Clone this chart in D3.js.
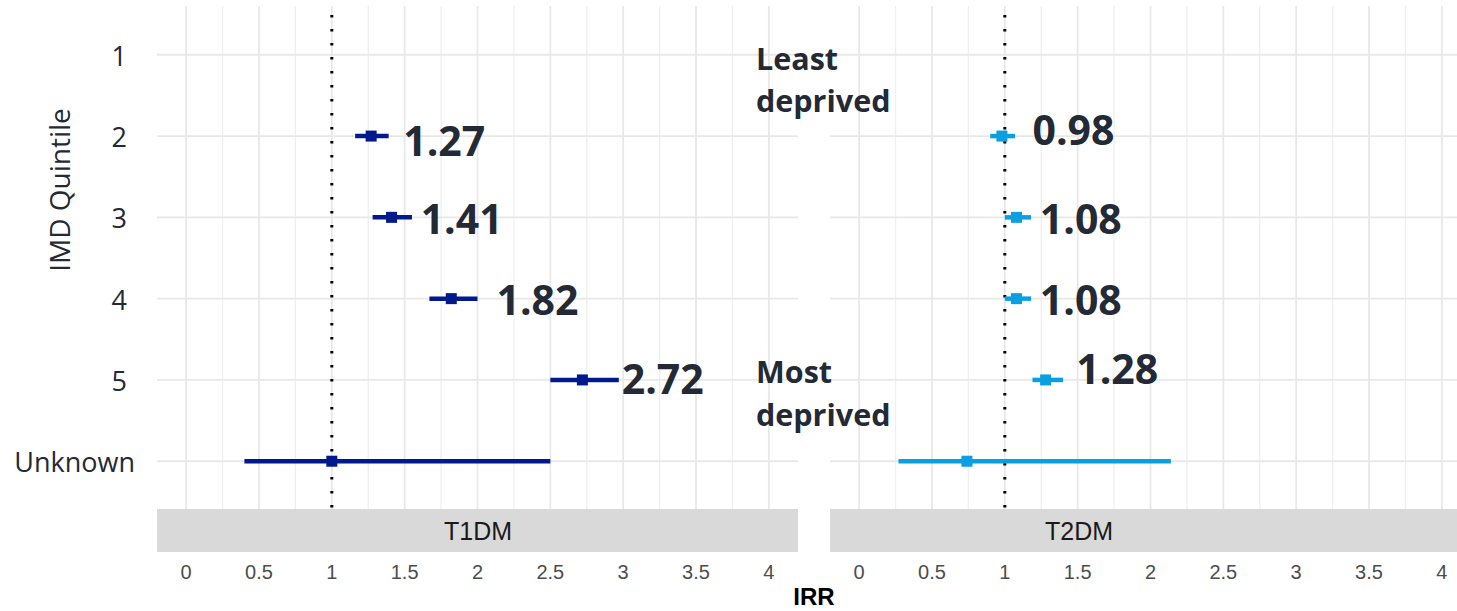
<!DOCTYPE html>
<html>
<head>
<meta charset="utf-8">
<script src="https://cdn.jsdelivr.net/npm/d3@7"></script>
<style>
  html, body { margin: 0; padding: 0; background: #fff; }
  svg { display: block; }
</style>
</head>
<body>
<svg id="chart" width="1457" height="611"></svg>
<script>
// ---------------- data ----------------
const rows = ["1", "2", "3", "4", "5", "Unknown"];
const panels = ["T1DM", "T2DM"];
const xTicks = [0, 0.5, 1, 1.5, 2, 2.5, 3, 3.5, 4];

// T1DM estimates (IRR, lower CI, upper CI); quintile 1 is the reference (no estimate)
const t1Rows  = ["2", "3", "4", "5", "Unknown"];
const t1Irr   = [1.27, 1.41, 1.82, 2.72, 1.00];
const t1Lower = [1.16, 1.28, 1.67, 2.50, 0.40];
const t1Upper = [1.39, 1.55, 2.00, 2.97, 2.50];

// T2DM estimates
const t2Rows  = ["2", "3", "4", "5", "Unknown"];
const t2Irr   = [0.98, 1.08, 1.08, 1.28, 0.74];
const t2Lower = [0.90, 1.00, 1.00, 1.19, 0.27];
const t2Upper = [1.07, 1.18, 1.18, 1.40, 2.14];

// value annotations: text, row, IRR-scale anchor where the label starts
const t1LabelText = ["1.27", "1.41", "1.82", "2.72"];
const t1LabelRow  = ["2", "3", "4", "5"];
const t1LabelAt   = [1.49, 1.61, 2.13, 2.99];
const t2LabelText = ["0.98", "1.08", "1.08", "1.28"];
const t2LabelRow  = ["2", "3", "4", "5"];
const t2LabelAt   = [1.19, 1.24, 1.24, 1.49];

// ---------------- layout ----------------
const svg = d3.select("#chart");
const panelTop = 6, panelBottom = 510, stripBottom = 552;
const panelW = 641;
const panelLeft = { T1DM: 157, T2DM: 830 };
const colors = { T1DM: "#00198c", T2DM: "#0a9fe0" };
const labelDy = { T1DM: [20, 17, 16, 14], T2DM: [9, 17, 16, 4] };
const textDark = "#232a35";

const y = d3.scalePoint().domain(rows).range([panelTop, panelBottom]).padding(0.6);

const series = {
  T1DM: t1Rows.map((r, i) => ({ row: r, irr: t1Irr[i], lo: t1Lower[i], hi: t1Upper[i] })),
  T2DM: t2Rows.map((r, i) => ({ row: r, irr: t2Irr[i], lo: t2Lower[i], hi: t2Upper[i] }))
};
const labels = {
  T1DM: t1LabelText.map((t, i) => ({ text: t, row: t1LabelRow[i], at: t1LabelAt[i], dy: labelDy.T1DM[i] })),
  T2DM: t2LabelText.map((t, i) => ({ text: t, row: t2LabelRow[i], at: t2LabelAt[i], dy: labelDy.T2DM[i] }))
};

panels.forEach(p => {
  const x0 = panelLeft[p];
  const x = d3.scaleLinear().domain([-0.2, 4.2]).range([x0, x0 + panelW]);
  const g = svg.append("g");

  // minor vertical grid
  g.selectAll("line.minor").data(d3.range(0.25, 4.2, 0.5)).enter().append("line")
    .attr("x1", d => x(d)).attr("x2", d => x(d))
    .attr("y1", panelTop).attr("y2", panelBottom)
    .attr("stroke", "#efefef").attr("stroke-width", 1.3);
  // major vertical grid
  g.selectAll("line.major").data(xTicks).enter().append("line")
    .attr("x1", d => x(d)).attr("x2", d => x(d))
    .attr("y1", panelTop).attr("y2", panelBottom)
    .attr("stroke", "#e8e8e8").attr("stroke-width", 1.8);
  // horizontal grid
  g.selectAll("line.hgrid").data(rows).enter().append("line")
    .attr("x1", x0).attr("x2", x0 + panelW)
    .attr("y1", d => y(d)).attr("y2", d => y(d))
    .attr("stroke", "#e8e8e8").attr("stroke-width", 1.8);

  // reference line at IRR = 1
  g.append("line")
    .attr("x1", x(1)).attr("x2", x(1))
    .attr("y1", panelTop + 9).attr("y2", panelBottom)
    .attr("stroke", "#000").attr("stroke-width", 3)
    .attr("stroke-dasharray", "2.6 11.4");

  // error bars
  g.selectAll("line.ci").data(series[p]).enter().append("line")
    .attr("x1", d => x(d.lo)).attr("x2", d => x(d.hi))
    .attr("y1", d => y(d.row)).attr("y2", d => y(d.row))
    .attr("stroke", colors[p]).attr("stroke-width", 4.5);
  // points
  g.selectAll("rect.pt").data(series[p]).enter().append("rect")
    .attr("x", d => x(d.irr) - 5.5).attr("y", d => y(d.row) - 5.5)
    .attr("width", 11).attr("height", 11)
    .attr("fill", colors[p]);

  // strip
  g.append("rect")
    .attr("x", x0).attr("y", panelBottom - 1)
    .attr("width", panelW).attr("height", stripBottom - panelBottom + 1)
    .attr("fill", "#d9d9d9");

  // x tick labels
  g.selectAll("text.xt").data(xTicks).enter().append("text")
    .attr("x", d => x(d)).attr("y", 579)
    .attr("text-anchor", "middle")
    .attr("font-family", "Liberation Sans, Arial, sans-serif")
    .attr("font-size", 20).attr("fill", "#4d4d4d")
    .text(d => d3.format("~g")(d));

  // value labels
  g.selectAll("text.val").data(labels[p]).enter().append("text")
    .attr("x", d => x(d.at)).attr("y", d => y(d.row) + d.dy)
    .attr("font-family", "Open Sans, sans-serif").attr("font-weight", 700)
    .attr("font-size", 41).attr("fill", textDark)
    .text(d => d.text);
});

// strip labels
svg.append("text").attr("x", 478).attr("y", 540).attr("text-anchor", "middle")
  .attr("font-family", "Liberation Sans, Arial, sans-serif").attr("font-size", 25)
  .attr("fill", "#1a1a1a").text(panels[0]);
svg.append("text").attr("x", 1079).attr("y", 540).attr("text-anchor", "middle")
  .attr("font-family", "Liberation Sans, Arial, sans-serif").attr("font-size", 25)
  .attr("fill", "#1a1a1a").text(panels[1]);

// y tick labels
svg.selectAll("text.yt").data(rows).enter().append("text")
  .attr("x", d => d === "Unknown" ? 135 : 127)
  .attr("y", d => y(d) + 11)
  .attr("text-anchor", "end")
  .attr("font-family", "Open Sans, sans-serif").attr("font-size", 27)
  .attr("fill", textDark)
  .text(d => d);

// y axis title
svg.append("text")
  .attr("transform", "translate(70,190) rotate(-90)")
  .attr("text-anchor", "middle")
  .attr("font-family", "Open Sans, sans-serif").attr("font-size", 28)
  .attr("fill", textDark)
  .text("IMD Quintile");

// x axis title
svg.append("text").attr("x", 814).attr("y", 605).attr("text-anchor", "middle")
  .attr("font-family", "Liberation Sans, Arial, sans-serif").attr("font-size", 24)
  .attr("font-weight", 700).attr("fill", "#000").text("IRR");

// annotations
const ann = svg.append("g").attr("font-family", "Open Sans, sans-serif")
  .attr("font-weight", 700).attr("font-size", 30.5).attr("fill", textDark);
[["Least", 70], ["deprived", 112], ["Most", 383], ["deprived", 426]].forEach(([t, yy]) => {
  ann.append("text").attr("x", 756).attr("y", yy).text(t);
});
</script>
</body>
</html>
